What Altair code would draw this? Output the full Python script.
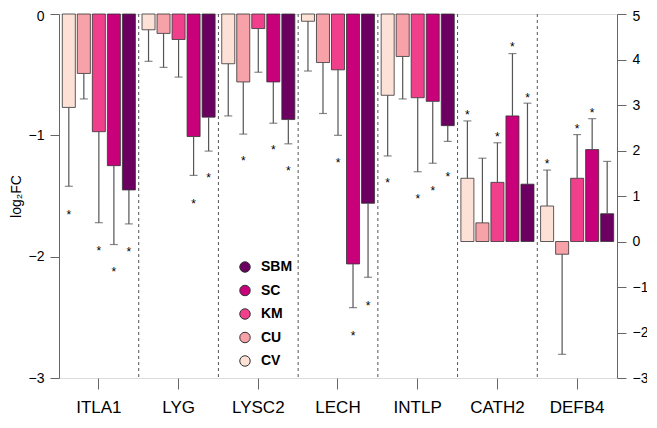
import altair as alt
import pandas as pd

genes = ["ITLA1", "LYG", "LYSC2", "LECH", "INTLP", "CATH2", "DEFB4"]
groups = ["CV", "CU", "KM", "SC", "SBM"]
legend_order = ["SBM", "SC", "KM", "CU", "CV"]
legend_colors = ["#6B0060", "#C8007A", "#F0408C", "#F7A1A8", "#FDE0D6"]
right_genes = ["CATH2", "DEFB4"]

values = {
    "ITLA1": [-0.77, -0.49, -0.97, -1.25, -1.45],
    "LYG":   [-0.13, -0.16, -0.21, -1.01, -0.85],
    "LYSC2": [-0.41, -0.56, -0.12, -0.56, -0.87],
    "LECH":  [-0.06, -0.40, -0.46, -2.06, -1.56],
    "INTLP": [-0.67, -0.35, -0.69, -0.72, -0.92],
    "CATH2": [1.39, 0.41, 1.30, 2.76, 1.26],
    "DEFB4": [0.78, -0.28, 1.39, 2.02, 0.61],
}
err_ends = {
    "ITLA1": [-1.42, -0.70, -1.72, -1.90, -1.73],
    "LYG":   [-0.39, -0.44, -0.52, -1.33, -1.13],
    "LYSC2": [-0.84, -0.99, -0.48, -0.90, -1.07],
    "LECH":  [-0.47, -0.82, -1.00, -2.42, -2.17],
    "INTLP": [-1.17, -0.70, -1.30, -1.23, -1.05],
    "CATH2": [2.65, 1.83, 2.17, 4.13, 3.04],
    "DEFB4": [1.57, -2.48, 2.35, 2.70, 1.76],
}
stars = {
    "ITLA1": [-1.63, None, -1.93, -2.10, -1.94],
    "LYG":   [None, None, None, -1.54, -1.33],
    "LYSC2": [None, -1.19, None, -1.10, -1.27],
    "LECH":  [None, None, -1.20, -2.63, -2.38],
    "INTLP": [-1.37, None, -1.50, -1.43, -1.32],
    "CATH2": [2.85, None, 2.37, 4.33, 3.22],
    "DEFB4": [1.76, None, 2.53, 2.90, None],
}

rows = []
for g in genes:
    for i, grp in enumerate(groups):
        rows.append({"gene": g, "group": grp, "value": values[g][i],
                     "err": err_ends[g][i], "star": stars[g][i],
                     "side": "right" if g in right_genes else "left"})
df = pd.DataFrame(rows)
df_left = df[df.side == "left"]
df_right = df[df.side == "right"]
star_left = df_left.dropna(subset=["star"])
star_right = df_right.dropna(subset=["star"])
sep_df = pd.DataFrame({"gene": genes[1:]})

FONT = "Liberation Sans"
AX = "#666666"

x_scale = alt.Scale(domain=genes, paddingInner=0, paddingOuter=0)
x_axis = alt.Axis(title=None, labelFontSize=17, tickSize=11, labelPadding=10,
                  labelAngle=0, domain=False, tickColor=AX, labelColor="black",
                  labelFont=FONT)
x_enc = alt.X("gene:N", scale=x_scale, axis=x_axis)
xoff = alt.XOffset("group:N", scale=alt.Scale(domain=groups, paddingInner=0.133, paddingOuter=0.22))
color = alt.Color("group:N", scale=alt.Scale(domain=legend_order, range=legend_colors),
                  legend=alt.Legend(title=None, orient="none", legendX=179, legendY=246,
                                    symbolType="circle", symbolSize=110,
                                    symbolStrokeColor="#333333", symbolStrokeWidth=1,
                                    labelFontSize=14, labelFontWeight="bold", labelFont=FONT,
                                    labelColor="black", rowPadding=7.5, labelOffset=9))


def side_layer(data, sdata, domain, orient, ticks, title):
    top = max(domain)
    y_axis = alt.Axis(orient=orient, values=ticks, title=title, tickSize=9, labelFontSize=14,
                      labelPadding=6, grid=False, domainColor=AX, tickColor=AX,
                      labelOffset=alt.condition(f"datum.value == {top}", alt.value(2), alt.value(0)),
                      labelColor="black", labelFont=FONT, titleFont=FONT, titleFontSize=14,
                      titleFontWeight="normal", titleColor="black", titlePadding=5)
    ysc = alt.Scale(domain=domain, nice=False, zero=False)
    y = alt.Y("value:Q", scale=ysc, axis=y_axis)
    base = alt.Chart(data)
    bars = base.mark_bar(stroke="#333333", strokeWidth=0.8).encode(
        x=x_enc, xOffset=xoff, y=y, y2=alt.datum(0), color=color)
    rules = base.mark_rule(color="#555555", strokeWidth=1.2).encode(
        x=x_enc, xOffset=xoff, y=alt.Y("value:Q", scale=ysc, axis=y_axis), y2="err:Q")
    caps = base.mark_tick(color="#555555", thickness=1.2, size=8, orient="horizontal").encode(
        x=x_enc, xOffset=xoff, y=alt.Y("err:Q", scale=ysc, axis=y_axis))
    st = alt.Chart(sdata).mark_text(text="*", fontSize=12, color="black", dy=3,
                                    baseline="middle", font=FONT).encode(
        x=x_enc, xOffset=xoff, y=alt.Y("star:Q", scale=ysc, axis=y_axis))
    return alt.layer(bars, rules, caps, st)


left = side_layer(df_left, star_left, [-3, 0], "left", [0, -1, -2, -3], "log₂FC")
right = side_layer(df_right, star_right, [-3, 5], "right", [5, 4, 3, 2, 1, 0, -1, -2, -3], None)

seps = alt.Chart(sep_df).mark_rule(color="#555555", strokeDash=[3, 3], strokeWidth=1).encode(
    x=alt.X("gene:N", bandPosition=0, scale=x_scale, axis=x_axis))

chart = alt.layer(seps, left, right).resolve_scale(y="independent").properties(
    width=558, height=364,
    autosize=alt.AutoSizeParams(type="none"),
    padding={"left": 51, "top": 6, "right": 30, "bottom": 41},
).configure_view(stroke=AX, strokeWidth=1).configure(background="white")

chart.save("out.html", embed_options={"renderer": "svg", "actions": False})
